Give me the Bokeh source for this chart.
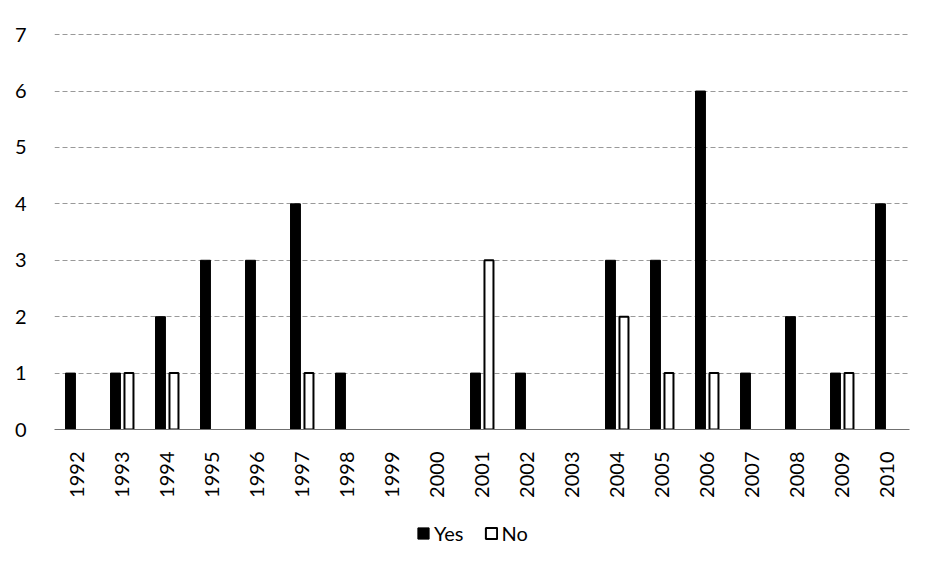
import math
from bokeh.plotting import figure
from bokeh.layouts import column
from bokeh.models import FactorRange, Range1d, FixedTicker, Legend, LegendItem, ColumnDataSource
from bokeh.transform import dodge
from bokeh.embed import file_html
from bokeh.resources import INLINE

years = ["1992", "1993", "1994", "1995", "1996", "1997", "1998", "1999", "2000",
         "2001", "2002", "2003", "2004", "2005", "2006", "2007", "2008", "2009", "2010"]
yes = [1, 1, 2, 3, 3, 4, 1, 0, 0, 1, 1, 0, 3, 3, 6, 1, 2, 1, 4]
no = [0, 1, 1, 0, 0, 1, 0, 0, 0, 3, 0, 0, 2, 1, 1, 0, 0, 1, 0]
y_ticks = [0, 1, 2, 3, 4, 5, 6, 7]
series_names = ["Yes", "No"]

FONT = "Lato"
W = 911

src_yes = ColumnDataSource(dict(x=[y for y, v in zip(years, yes) if v > 0],
                                v=[v for v in yes if v > 0]))
src_no = ColumnDataSource(dict(x=[y for y, v in zip(years, no) if v > 0],
                               v=[v for v in no if v > 0]))

p = figure(x_range=FactorRange(*years), y_range=Range1d(0, 7.02),
           width=W, height=505, output_backend="svg", toolbar_location=None,
           min_border_left=54, min_border_right=2, min_border_top=33, min_border_bottom=76)
p.outline_line_color = None

yes_style = dict(fill_color="black", line_color="black", line_width=1)
no_style = dict(fill_color="white", line_color="black", line_width=2)

p.vbar(x=dodge("x", -0.145, range=p.x_range), top="v", width=0.22, source=src_yes, **yes_style)
p.vbar(x=dodge("x", 0.155, range=p.x_range), top="v", width=0.2, source=src_no, **no_style)

p.xgrid.grid_line_color = None
p.ygrid.grid_line_color = "#999999"
p.ygrid.grid_line_dash = "5 3"
p.ygrid.grid_line_width = 1
p.yaxis.ticker = FixedTicker(ticks=y_ticks)
p.yaxis.axis_line_color = None
p.yaxis.major_tick_line_color = None
p.yaxis.minor_tick_line_color = None
p.yaxis.major_label_standoff = 22
p.yaxis.major_label_text_font = FONT
p.yaxis.major_label_text_font_size = "20px"
p.yaxis.major_label_text_color = "black"

p.xaxis.axis_line_color = "#707070"
p.xaxis.axis_line_width = 1
p.xaxis.major_tick_line_color = None
p.xaxis.minor_tick_line_color = None
p.xaxis.major_label_orientation = math.pi / 2
p.xaxis.major_label_standoff = 16
p.xaxis.major_label_text_font = FONT
p.xaxis.major_label_text_font_size = "20px"
p.xaxis.major_label_text_color = "black"

# legend strip: the series renderers here are hidden; only their legend is shown
lg = figure(width=W, height=49, x_range=FactorRange(*years), y_range=Range1d(100, 101),
            output_backend="svg", toolbar_location=None,
            x_axis_location=None, y_axis_location=None,
            min_border_left=0, min_border_right=0, min_border_top=0, min_border_bottom=0)
lg.outline_line_color = None
lg.xgrid.visible = False
lg.ygrid.visible = False
d_yes = lg.vbar(x="x", top="v", width=0.22, source=src_yes, **yes_style)
d_no = lg.vbar(x="x", top="v", width=0.2, source=src_no, **no_style)
d_yes.visible = False
d_no.visible = False

legend = Legend(items=[LegendItem(label=series_names[0], renderers=[d_yes]),
                       LegendItem(label=series_names[1], renderers=[d_no])],
                orientation="horizontal", location=(362, 9),
                border_line_color=None, background_fill_alpha=0,
                label_text_font=FONT, label_text_font_size="20px", label_text_color="black",
                glyph_width=14, glyph_height=14, label_standoff=4, spacing=20,
                padding=4, margin=0)
lg.add_layout(legend)

layout = column(p, lg, spacing=0)
open("out.html", "w").write(file_html(layout, INLINE))
